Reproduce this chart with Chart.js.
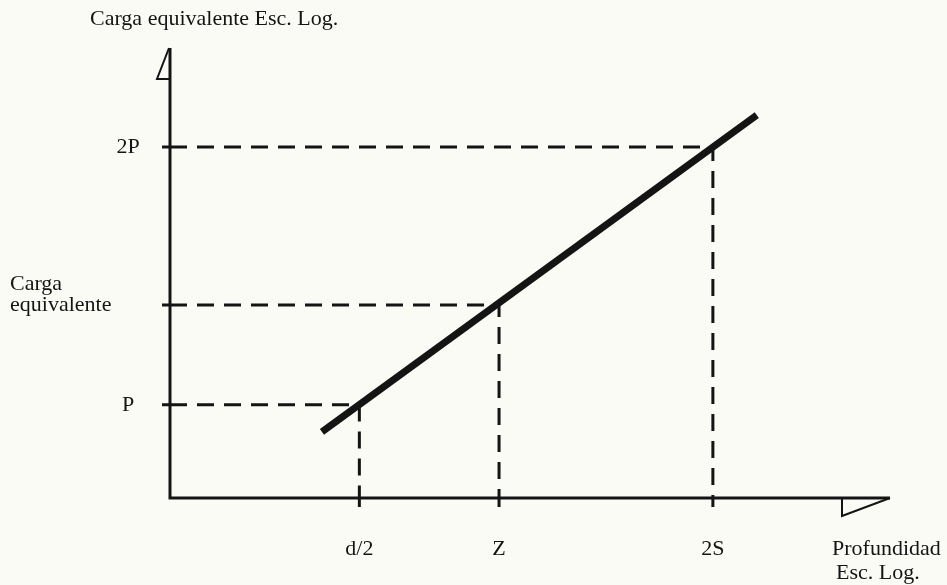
<!DOCTYPE html>
<html>
<head>
<meta charset="utf-8">
<script src="https://cdn.jsdelivr.net/npm/chart.js@4/dist/chart.umd.min.js"></script>
<style>
  html, body { margin: 0; padding: 0; background: #fbfbf6; }
  #wrap { width: 947px; height: 585px; position: relative; }
</style>
</head>
<body>
<div id="wrap"><canvas id="chart"></canvas></div>
<script>
// values (axes run 0..100, log scale sketch)
const xTickLabels = ['d/2', 'Z', '2S'];
const xTickValues = [26.3, 45.7, 75.4];
const yTickLabels = ['P', ['Carga', 'equivalente'], '2P'];
const yTickValues = [20.7, 42.9, 78.0];
const lineX = [21.1, 81.5];
const lineY = [14.7, 85.1];

const ink = '#141414';
const font = '22px "Liberation Serif", "DejaVu Serif", serif';

// dashed guides: from the y axis to the point, then down to the x axis
const guideSets = xTickValues.map((xv, i) => ({
    data: [{x: 0, y: yTickValues[i]}, {x: xv, y: yTickValues[i]}, {x: xv, y: 0}],
    borderColor: ink,
    borderWidth: 3,
    borderDash: [17, 10],
    pointRadius: 0,
    showLine: true,
    clip: false
}));

const mainLine = {
    data: lineX.map((x, i) => ({x: x, y: lineY[i]})),
    borderColor: ink,
    borderWidth: 7,
    borderCapStyle: 'butt',
    pointRadius: 0,
    showLine: true,
    clip: false
};

// axes, arrow flags and all labels
const sketchAxes = {
    id: 'sketchAxes',
    afterDatasetsDraw(chart) {
        const ctx = chart.ctx;
        const xs = chart.scales.x, ys = chart.scales.y;
        const x0 = xs.getPixelForValue(0), y0 = ys.getPixelForValue(0);
        const xEnd = xs.getPixelForValue(100), yEnd = ys.getPixelForValue(100);
        ctx.save();
        ctx.strokeStyle = ink;
        ctx.fillStyle = ink;
        ctx.lineWidth = 3;
        ctx.beginPath();
        ctx.moveTo(x0, yEnd);
        ctx.lineTo(x0, y0);
        ctx.lineTo(xEnd, y0);
        ctx.stroke();

        // half arrow heads
        ctx.lineWidth = 2;
        ctx.beginPath();
        ctx.moveTo(x0 - 1, yEnd);
        ctx.lineTo(x0 - 13, yEnd + 31);
        ctx.lineTo(x0, yEnd + 31);
        ctx.moveTo(xEnd, y0);
        ctx.lineTo(xEnd - 48, y0 + 18);
        ctx.lineTo(xEnd - 48, y0);
        ctx.stroke();

        // little ticks
        ctx.lineWidth = 3;
        ctx.beginPath();
        xTickValues.forEach(v => {
            const px = xs.getPixelForValue(v);
            ctx.moveTo(px, y0);
            ctx.lineTo(px, y0 + 9);
        });
        yTickValues.forEach(v => {
            const py = ys.getPixelForValue(v);
            ctx.moveTo(x0 - 8, py);
            ctx.lineTo(x0, py);
        });
        ctx.stroke();

        ctx.font = font;
        ctx.textBaseline = 'middle';
        ctx.textAlign = 'center';
        xTickLabels.forEach((t, i) => {
            ctx.fillText(t, xs.getPixelForValue(xTickValues[i]), y0 + 51);
        });
        yTickLabels.forEach((t, i) => {
            const py = ys.getPixelForValue(yTickValues[i]);
            if (Array.isArray(t)) {
                ctx.textAlign = 'left';
                ctx.fillText(t[0], 10, py - 21);
                ctx.fillText(t[1], 10, py);
                ctx.textAlign = 'center';
            } else {
                ctx.fillText(t, x0 - 42, py);
            }
        });

        ctx.textAlign = 'left';
        ctx.fillText('Carga equivalente Esc. Log.', 90, 19);
        ctx.fillText('Profundidad', 832, y0 + 51);
        ctx.fillText('Esc. Log.', 836, y0 + 75);
        ctx.restore();
    }
};

new Chart(document.getElementById('chart'), {
    type: 'scatter',
    data: { datasets: [...guideSets, mainLine] },
    options: {
        responsive: true,
        maintainAspectRatio: false,
        animation: false,
        layout: { padding: { left: 170, right: 57, top: 48, bottom: 87 } },
        scales: {
            x: { type: 'linear', min: 0, max: 100, display: false },
            y: { type: 'linear', min: 0, max: 100, display: false }
        },
        plugins: {
            legend: { display: false },
            tooltip: { enabled: false }
        }
    },
    plugins: [sketchAxes]
});
</script>
</body>
</html>
